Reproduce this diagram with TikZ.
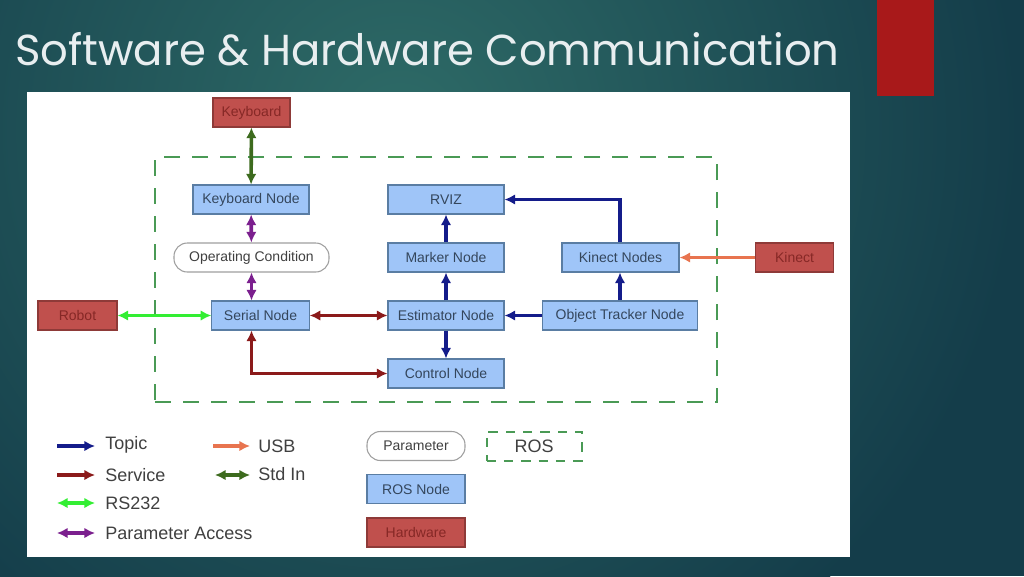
\documentclass[tikz,border=0pt]{standalone}
\usepackage{fontspec}
\setmainfont{Liberation Sans}
\newfontfamily\titlefont{Poppins}
\usetikzlibrary{arrows.meta}
\definecolor{bgdark}{HTML}{143D4A}
\definecolor{bglight}{HTML}{2E6B67}
\definecolor{slidered}{HTML}{A8191A}
\definecolor{titlecol}{HTML}{E8EEF0}
\definecolor{nodefill}{HTML}{9FC5F8}
\definecolor{nodeborder}{HTML}{5A7DA3}
\definecolor{nodetext}{HTML}{34465C}
\definecolor{hwfill}{HTML}{C0504D}
\definecolor{hwborder}{HTML}{8E3A38}
\definecolor{hwtext}{HTML}{862826}
\definecolor{topiccol}{HTML}{141C8A}
\definecolor{svccol}{HTML}{8B1A1A}
\definecolor{rscol}{HTML}{33EE33}
\definecolor{pacol}{HTML}{7B1F8E}
\definecolor{stdcol}{HTML}{3D6B1E}
\definecolor{usbcol}{HTML}{E8744F}
\definecolor{roscol}{HTML}{4A9A55}
\definecolor{legtextcol}{HTML}{404040}
\tikzset{
  rosnode/.style={draw=nodeborder, fill=nodefill, line width=0.8pt, minimum height=21.75pt,
    inner sep=0pt, font=\fontsize{10.5}{12}\selectfont, text=nodetext},
  hwnode/.style={draw=hwborder, fill=hwfill, line width=0.8pt, minimum height=21.75pt,
    inner sep=0pt, font=\fontsize{10.5}{12}\selectfont, text=hwtext},
  parnode/.style={draw=gray!75, fill=white, line width=0.8pt, rounded corners=10pt, minimum height=21.75pt,
    inner sep=0pt, font=\fontsize{10.5}{12}\selectfont, text=legtextcol},
  rosbox/.style={draw=roscol, line width=1.5pt, dash pattern=on 12pt off 9pt, inner sep=0pt},
  tip/.tip={Latex[length=8pt,width=8pt]},
  oneway/.style={line width=2.7pt, -tip},
  twoway/.style={line width=2.7pt, tip-tip},
  legtext/.style={font=\fontsize{13.5}{15}\selectfont, text=legtextcol, anchor=west, inner sep=0pt},
}
\begin{document}
\begin{tikzpicture}[x=0.75pt,y=-0.75pt]
% background
\fill[bgdark] (0,0) rectangle (1024,576);
\begin{scope}
\clip (0,0) rectangle (1024,576);
\shade[inner color=bglight, outer color=bgdark] (400,130) circle (620);
\end{scope}
\useasboundingbox (0,0) rectangle (1024,576);
\fill[slidered] (877,0) rectangle (934,96);
\node[anchor=base west, inner sep=0pt, text=titlecol, font=\titlefont\fontsize{32.5}{40}\selectfont] (title) at (15,65) {Software \& Hardware Communication};
% white panel
\fill[white] (27,92) rectangle (850,557);

% ROS area
\node[rosbox, minimum width=421.5pt, minimum height=183.75pt] (rosarea) at (436,279.5) {};

% nodes
\node[hwnode, minimum width=57.75pt] (kb) at (251.5,112.5) {Keyboard};
\node[rosnode, minimum width=87pt] (kbn) at (251,199.5) {Keyboard Node};
\node[parnode, minimum width=116.25pt] (oc) at (251.5,257.5) {Operating Condition};
\node[rosnode, minimum width=73pt] (ser) at (260.5,315.5) {Serial Node};
\node[hwnode, minimum width=59.25pt] (robot) at (77.5,315.5) {Robot};
\node[rosnode, minimum width=87pt] (rviz) at (446,199.5) {RVIZ};
\node[rosnode, minimum width=87pt] (mk) at (446,257.5) {Marker Node};
\node[rosnode, minimum width=87pt] (est) at (446,315.5) {Estimator Node};
\node[rosnode, minimum width=87pt] (ctl) at (446,373.5) {Control Node};
\node[rosnode, minimum width=87.75pt] (kin) at (620.5,257.5) {Kinect Nodes};
\node[rosnode, minimum width=116.5pt] (otn) at (620,315.5) {Object Tracker Node};
\node[hwnode, minimum width=58.2pt] (kinect) at (794.5,257.5) {Kinect};

% connectors
\draw[twoway, stdcol] (kb) -- (kbn);
\draw[twoway, pacol] (kbn) -- (oc);
\draw[twoway, pacol] (oc.south) -- (oc.south |- ser.north);
\draw[twoway, rscol] (robot) -- (ser);
\draw[twoway, svccol] (ser) -- (est);
\draw[twoway, svccol] (oc.south |- ser.south) |- (ctl.west);
\draw[oneway, topiccol] (est) -- (mk);
\draw[oneway, topiccol] (mk) -- (rviz);
\draw[oneway, topiccol] (est) -- (ctl);
\draw[oneway, topiccol] (otn) -- (est);
\draw[oneway, topiccol] (otn) -- (otn.north |- kin.south);
\draw[oneway, topiccol] (otn.north |- kin.north) |- (rviz.east);
\draw[oneway, usbcol] (kinect) -- (kin);

% legend
\coordinate (l1a) at (57,446); \coordinate (l1b) at (95,446);
\coordinate (l2a) at (57,475); \coordinate (l2b) at (95,475);
\coordinate (l3a) at (57,503); \coordinate (l3b) at (95,503);
\coordinate (l4a) at (57,533); \coordinate (l4b) at (95,533);
\coordinate (l5a) at (213,446); \coordinate (l5b) at (250,446);
\coordinate (l6a) at (215,475); \coordinate (l6b) at (250,475);
\draw[oneway, topiccol] (l1a) -- (l1b);
\draw[oneway, svccol] (l2a) -- (l2b);
\draw[twoway, rscol] (l3a) -- (l3b);
\draw[twoway, pacol] (l4a) -- (l4b);
\draw[oneway, usbcol] (l5a) -- (l5b);
\draw[twoway, stdcol] (l6a) -- (l6b);
\node[legtext] (lt1) at (105,445) {Topic};
\node[legtext] (lt2) at (105,475) {Service};
\node[legtext] (lt3) at (105,503) {RS232};
\node[legtext] (lt4) at (105,533) {Parameter Access};
\node[legtext] (lt5) at (258,446) {USB};
\node[legtext] (lt6) at (258,474) {Std In};

\node[parnode, minimum width=73.5pt] (lpar) at (416,446) {Parameter};
\node[rosbox, dash pattern=on 7pt off 6pt, minimum width=71.25pt, minimum height=21.75pt,
  font=\fontsize{13.5}{15}\selectfont, text=legtextcol] (lros) at (534,446) {ROS};
\node[rosnode, minimum width=73.5pt] (lrn) at (416,489) {ROS Node};
\node[hwnode, minimum width=73.5pt] (lhw) at (416,532.5) {Hardware};
\end{tikzpicture}
\end{document}
